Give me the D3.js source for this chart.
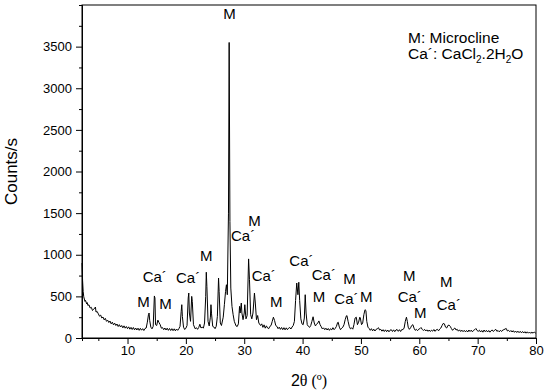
<!DOCTYPE html>
<html>
<head>
<meta charset="utf-8">
<script src="https://cdn.jsdelivr.net/npm/d3@7"></script>
<style>
    body { margin: 0; background: #fff; }
    svg { display: block; font-family: "Liberation Sans", Arial, sans-serif; }
    .axis text { font-size: 13px; fill: #000; }
    .axis path, .axis line { stroke: #000; stroke-width: 1px; }
</style>
</head>
<body>
<div class="graph"></div>
<script>
"use strict";

// XRD scan, [2theta, counts/s]
var scanLow = [
    [2.2, 900], [2.3, 690], [2.4, 560], [2.5, 495], [2.6, 468], [2.7, 440], [2.8, 452], [3.0, 410],
    [3.1, 425], [3.2, 392], [3.4, 398], [3.6, 360], [3.8, 368], [4.0, 330], [4.2, 345], [4.4, 362],
    [4.5, 372], [4.6, 312], [4.8, 318], [5.0, 290], [5.2, 262], [5.4, 275], [5.6, 240], [5.8, 252],
    [6.0, 218], [6.2, 236], [6.4, 200], [6.6, 214], [6.8, 186], [7.0, 204], [7.2, 170], [7.4, 190],
    [7.6, 158], [7.8, 178], [8.0, 150], [8.2, 168], [8.4, 138], [8.6, 160], [8.8, 132], [9.0, 150],
    [9.2, 122], [9.4, 146], [9.6, 118], [9.8, 138], [10.0, 112], [10.2, 134], [10.4, 106], [10.6, 128],
    [10.8, 102], [11.0, 126], [11.2, 98], [11.4, 120], [11.6, 96], [11.8, 118], [12.0, 92], [12.2, 116],
    [12.4, 94], [12.6, 112], [12.8, 90], [13.0, 114], [13.2, 120], [13.4, 190], [13.6, 285], [13.7, 300],
    [13.8, 210], [14.0, 130], [14.2, 110], [14.4, 140], [14.6, 505], [14.7, 480], [14.8, 160], [15.0, 150],
    [15.2, 215], [15.4, 185], [15.6, 160], [15.8, 118], [16.0, 125], [16.2, 100], [16.4, 120], [16.6, 96],
    [16.8, 118], [17.0, 92], [17.2, 114], [17.4, 90], [17.6, 112], [17.8, 88], [18.0, 110], [18.2, 86],
    [18.4, 108], [18.6, 92], [18.8, 112], [19.0, 140], [19.2, 320], [19.3, 400], [19.4, 260], [19.6, 130],
    [19.8, 102]
];
var scanMid = [
    [20.0, 118], [20.2, 150], [20.4, 480], [20.5, 540], [20.6, 300], [20.8, 200], [21.0, 500], [21.1, 440],
    [21.3, 160], [21.6, 110], [21.8, 124], [22.0, 104], [22.2, 126], [22.4, 165], [22.6, 120], [22.8, 132],
    [23.0, 118], [23.2, 180], [23.4, 500], [23.5, 790], [23.6, 620], [23.8, 200], [24.0, 145], [24.2, 250],
    [24.3, 400], [24.4, 290], [24.6, 140], [24.8, 132], [25.0, 112], [25.2, 140], [25.4, 260], [25.6, 720],
    [25.7, 560], [25.9, 180], [26.1, 150], [26.4, 250], [26.6, 400], [26.8, 560], [26.95, 640], [27.1, 520],
    [27.3, 1500], [27.42, 3550], [27.55, 1400], [27.7, 600], [27.9, 380], [28.1, 280], [28.3, 200], [28.6, 145],
    [28.8, 138], [29.0, 170], [29.2, 380], [29.3, 300], [29.5, 420], [29.6, 300], [29.8, 220], [30.0, 300],
    [30.1, 400], [30.3, 230], [30.5, 270], [30.75, 950], [30.9, 700], [31.1, 280], [31.3, 230], [31.5, 300],
    [31.75, 540], [31.9, 420], [32.1, 220], [32.3, 270], [32.5, 180], [32.8, 150], [33.0, 170], [33.2, 128],
    [33.4, 158], [33.6, 118], [33.8, 146], [34.0, 120], [34.2, 112], [34.4, 140], [34.6, 150], [34.8, 200],
    [35.0, 250], [35.2, 210], [35.4, 150], [35.6, 140], [35.8, 112], [36.0, 130], [36.2, 104], [36.4, 126],
    [36.6, 100], [36.8, 124], [37.0, 98], [37.2, 122], [37.4, 100], [37.6, 118], [37.8, 126], [38.0, 108],
    [38.2, 132], [38.4, 150], [38.6, 200], [38.8, 450], [39.0, 660], [39.2, 520], [39.35, 670], [39.5, 450],
    [39.7, 230], [39.9, 170]
];
var scanHigh = [
    [40.1, 160], [40.3, 240], [40.45, 520], [40.6, 300], [40.8, 160], [41.0, 140], [41.2, 128], [41.4, 150],
    [41.6, 200], [41.8, 255], [42.0, 180], [42.2, 145], [42.4, 165], [42.6, 180], [42.8, 205], [43.0, 160],
    [43.2, 135], [43.4, 108], [43.6, 122], [43.8, 100], [44.0, 118], [44.2, 96], [44.4, 114], [44.6, 92],
    [44.8, 112], [45.0, 98], [45.2, 124], [45.4, 100], [45.6, 116], [45.8, 140], [46.0, 185], [46.1, 190],
    [46.3, 130], [46.5, 100], [46.7, 118], [46.9, 130], [47.1, 160], [47.3, 220], [47.5, 265], [47.6, 270],
    [47.8, 200], [48.0, 140], [48.2, 110], [48.4, 122], [48.6, 106], [48.8, 160], [49.0, 240], [49.2, 250],
    [49.4, 160], [49.6, 190], [49.8, 250], [49.9, 240], [50.1, 160], [50.3, 180], [50.5, 280], [50.7, 340],
    [50.85, 330], [51.0, 200], [51.2, 130], [51.4, 115], [51.6, 92], [51.8, 112], [52.0, 86], [52.2, 106],
    [52.4, 84], [52.6, 104], [52.8, 110], [53.0, 124], [53.2, 96], [53.4, 104], [53.6, 82], [53.8, 100],
    [54.0, 78], [54.2, 98], [54.4, 76], [54.6, 96], [54.8, 74], [55.0, 94], [55.2, 100], [55.4, 78],
    [55.6, 98], [55.8, 76], [56.0, 96], [56.2, 102], [56.4, 80], [56.6, 100], [56.8, 78], [57.0, 102],
    [57.2, 100], [57.4, 120], [57.6, 200], [57.8, 250], [57.95, 200], [58.1, 130], [58.3, 104], [58.5, 122],
    [58.7, 150], [58.9, 160], [59.1, 118], [59.3, 92], [59.5, 104], [59.7, 88], [59.9, 106]
];
var scanTail = [
    [60.1, 112], [60.3, 126], [60.5, 104], [60.7, 90], [60.9, 104], [61.1, 84], [61.3, 98], [61.5, 80],
    [61.7, 96], [61.9, 78], [62.1, 94], [62.3, 82], [62.5, 102], [62.7, 80], [62.9, 98], [63.1, 104],
    [63.3, 86], [63.5, 108], [63.7, 120], [63.9, 150], [64.1, 175], [64.3, 170], [64.5, 130], [64.7, 120],
    [64.9, 150], [65.1, 155], [65.3, 140], [65.5, 114], [65.7, 92], [65.9, 110], [66.1, 120], [66.3, 96],
    [66.5, 104], [66.7, 82], [66.9, 98], [67.1, 78], [67.3, 94], [67.5, 76], [67.7, 92], [67.9, 74],
    [68.1, 90], [68.3, 72], [68.5, 96], [68.7, 78], [68.9, 94], [69.1, 74], [69.3, 92], [69.5, 100],
    [69.7, 114], [69.9, 90], [70.1, 80], [70.3, 94], [70.5, 72], [70.7, 90], [70.9, 70], [71.1, 96],
    [71.3, 76], [71.5, 92], [71.7, 72], [71.9, 90], [72.1, 70], [72.3, 88], [72.5, 96], [72.7, 78],
    [72.9, 94], [73.1, 104], [73.3, 80], [73.5, 90], [73.7, 74], [73.9, 92], [74.1, 78], [74.3, 96],
    [74.5, 100], [74.7, 108], [74.9, 114], [75.1, 84], [75.3, 92], [75.5, 76], [75.7, 90], [75.9, 72],
    [76.1, 88], [76.3, 68], [76.5, 84], [76.7, 66], [76.9, 82], [77.1, 64], [77.3, 80], [77.5, 62],
    [77.7, 78], [77.9, 60], [78.1, 76], [78.3, 58], [78.5, 74], [78.7, 58], [78.9, 72], [79.1, 56],
    [79.3, 70], [79.5, 58], [79.7, 72], [79.9, 60], [80.0, 66]
];

// phase labels, anchored (left end, baseline) at [2theta, counts]
var labelText = ["M", "Ca\u00b4", "M", "Ca\u00b4", "M", "M", "M", "Ca\u00b4", "Ca\u00b4", "M",
    "Ca\u00b4", "Ca\u00b4", "M", "M", "Ca\u00b4", "M", "M", "Ca\u00b4", "M", "M", "Ca\u00b4"];
var labelAngle = [11.68, 12.6, 15.45, 18.31, 22.42, 26.4, 30.7, 27.74, 31.28, 34.42,
    37.73, 41.57, 41.74, 46.98, 45.44, 49.84, 57.21, 56.3, 59.1, 63.55, 62.99];
var labelCounts = [376, 676, 348, 664, 929, 3830, 1350, 1160, 688, 376,
    859, 697, 436, 645, 408, 436, 682, 430, 240, 609, 336];

var xTicks = [10, 20, 30, 40, 50, 60, 70, 80];
var xMinorTicks = [5, 15, 25, 35, 45, 55, 65, 75];
var yTicks = [0, 500, 1000, 1500, 2000, 2500, 3000, 3500];
var yMinorTicks = [250, 750, 1250, 1750, 2250, 2750, 3250, 3750];

var width = 550;
var height = 392;
var margin = { top: 5, right: 14, bottom: 54, left: 82 };
var plotWidth = width - margin.left - margin.right;
var plotHeight = height - margin.top - margin.bottom;

var svg = d3.select(".graph").append("svg").attr("width", width).attr("height", height);
var chart = svg.append("g").attr("transform", "translate(" + margin.left + "," + margin.top + ")");

var xScale = d3.scaleLinear().domain([2.2, 80]).range([0, plotWidth]);
var yScale = d3.scaleLinear().domain([0, 4000]).range([plotHeight, 0]);

// minor ticks first so the major axis sits on top
chart.append("g").attr("class", "axis")
    .attr("transform", "translate(0," + plotHeight + ")")
    .call(d3.axisBottom(xScale).tickValues(xMinorTicks).tickSize(3).tickFormat(""));
chart.append("g").attr("class", "axis")
    .call(d3.axisLeft(yScale).tickValues(yMinorTicks).tickSize(3).tickFormat(""));

chart.append("g").attr("class", "axis")
    .attr("transform", "translate(0," + plotHeight + ")")
    .call(d3.axisBottom(xScale).tickValues(xTicks).tickSize(6).tickPadding(2)
        .tickSizeOuter(0).tickFormat(d3.format("d")));
chart.append("g").attr("class", "axis")
    .call(d3.axisLeft(yScale).tickValues(yTicks).tickSize(6).tickPadding(4)
        .tickSizeOuter(0).tickFormat(d3.format("d")));

chart.append("rect")
    .attr("x", 0).attr("y", 0).attr("width", plotWidth).attr("height", plotHeight)
    .attr("fill", "none").attr("stroke", "#000").attr("stroke-width", 1);

var scan = scanLow.concat(scanMid, scanHigh, scanTail);
var line = d3.line()
    .x(function (d) { return xScale(d[0]); })
    .y(function (d) { return yScale(d[1]); });

chart.append("path").datum(scan)
    .attr("d", line)
    .attr("fill", "none")
    .attr("stroke", "#000")
    .attr("stroke-width", 1)
    .attr("stroke-linejoin", "round");

chart.selectAll(".peak-label").data(labelText).enter().append("text")
    .attr("class", "peak-label")
    .attr("x", function (_, i) { return xScale(labelAngle[i]); })
    .attr("y", function (_, i) { return yScale(labelCounts[i]); })
    .attr("font-size", "15px")
    .text(function (d) { return d; });

// legend
var legend = svg.append("g").attr("font-size", "15.5px");
legend.append("text").attr("x", 408).attr("y", 43).text("M: Microcline");
var legendCa = legend.append("text").attr("x", 408).attr("y", 59);
legendCa.append("tspan").text("Ca\u00b4: CaCl");
legendCa.append("tspan").attr("font-size", "10px").attr("dy", 4).text("2");
legendCa.append("tspan").attr("dy", -4).text(".2H");
legendCa.append("tspan").attr("font-size", "10px").attr("dy", 4).text("2");
legendCa.append("tspan").attr("dy", -4).text("O");

// axis titles
svg.append("text")
    .attr("transform", "translate(17," + (margin.top + plotHeight / 2) + ") rotate(-90)")
    .attr("text-anchor", "middle")
    .attr("font-size", "17px")
    .text("Counts/s");

var xTitle = svg.append("text")
    .attr("x", margin.left + plotWidth / 2)
    .attr("y", 386)
    .attr("text-anchor", "middle")
    .attr("font-size", "16px");
xTitle.append("tspan").text("2");
xTitle.append("tspan").attr("font-family", "'Liberation Serif', serif").text("\u03b8 (\u00ba)");
</script>
</body>
</html>
